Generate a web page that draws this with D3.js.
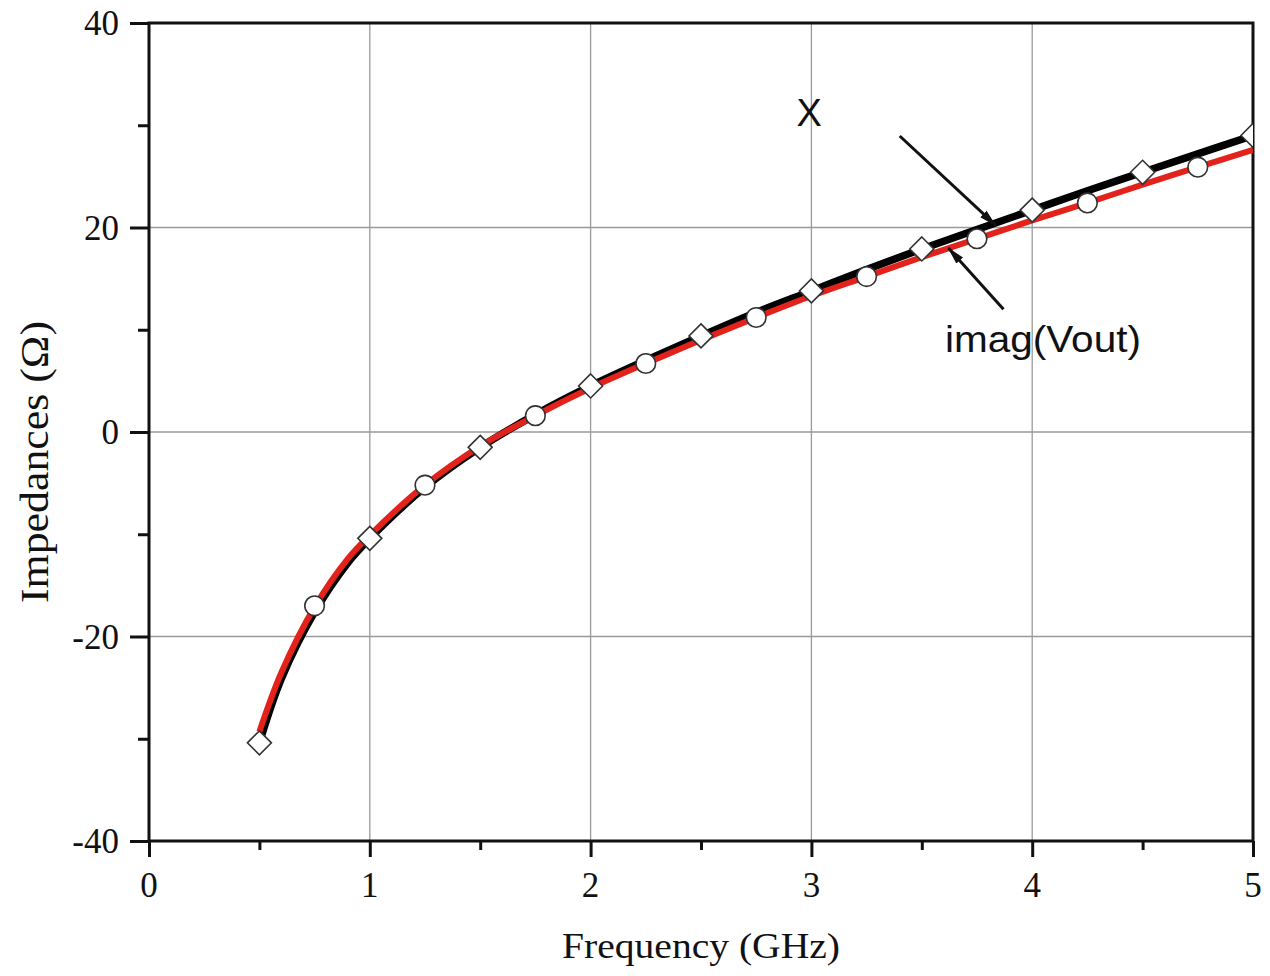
<!DOCTYPE html>
<html>
<head>
<meta charset="utf-8">
<title>Impedances vs Frequency</title>
<script src="https://d3js.org/d3.v7.min.js"></script>
<style>
	body { margin: 0; background: #fff; }
	svg { display: block; }
	.tick-label { font-family: "Liberation Serif", "Times New Roman", serif; font-size: 35px; fill: #111; }
	.axis-title { font-family: "Liberation Serif", "Times New Roman", serif; fill: #111; }
	.note { font-family: "Liberation Sans", Arial, sans-serif; fill: #111; }
</style>
</head>
<body>
<div id="chart"></div>
<script>
// frequency points (GHz) for the two curves
var freq = [0.5, 0.6, 0.75, 0.9, 1.0, 1.25, 1.5, 1.75, 2.0, 2.25, 2.5, 2.75, 3.0, 3.25, 3.5, 3.75, 4.0, 4.25, 4.5, 4.75, 5.0];
// X (black)
var xReact = [-30.4, -24.1, -17.6, -12.8, -10.4, -5.4, -1.5, 1.7, 4.5, 7.0, 9.4, 11.7, 13.8, 15.9, 17.9, 19.8, 21.7, 23.6, 25.4, 27.2, 29.0];
// imag(Vout) (red)
var imagVout = [-29.3, -23.5, -17.1, -12.4, -10.1, -5.2, -1.4, 1.6, 4.3, 6.7, 9.0, 11.2, 13.3, 15.2, 17.1, 18.9, 20.7, 22.4, 24.2, 25.9, 27.6];

// symbols
var diamondF = [0.5, 1.0, 1.5, 2.0, 2.5, 3.0, 3.5, 4.0, 4.5, 5.0];
var diamondV = [-30.4, -10.4, -1.5, 4.5, 9.4, 13.8, 17.9, 21.7, 25.4, 29.0];
var circleF = [0.75, 1.25, 1.75, 2.25, 2.75, 3.25, 3.75, 4.25, 4.75];
var circleV = [-17.0, -5.2, 1.6, 6.7, 11.2, 15.2, 18.9, 22.4, 25.9];

var xTicks = [0, 1, 2, 3, 4, 5];
var yTicks = [-40, -20, 0, 20, 40];

var width = 1270, height = 976;
var pLeft = 149, pRight = 1253, pTop = 23, pBottom = 841;

var x = d3.scaleLinear().domain([0, 5]).range([pLeft, pRight]);
var y = d3.scaleLinear().domain([-40, 40]).range([pBottom, pTop]);

var svg = d3.select("#chart").append("svg")
	.attr("width", width)
	.attr("height", height);

var defs = svg.append("defs");
defs.append("clipPath").attr("id", "plot")
	.append("rect")
	.attr("x", pLeft).attr("y", pTop)
	.attr("width", pRight - pLeft).attr("height", pBottom - pTop);

defs.append("marker")
	.attr("id", "head")
	.attr("viewBox", "0 -6 18 12")
	.attr("refX", 17).attr("refY", 0)
	.attr("markerWidth", 18).attr("markerHeight", 12)
	.attr("markerUnits", "userSpaceOnUse")
	.attr("orient", "auto")
	.append("path")
	.attr("d", "M0,-4.5L18,0L0,4.5Z")
	.attr("fill", "#111");

// grid
svg.append("g")
	.selectAll("line")
	.data([1, 2, 3, 4])
	.enter().append("line")
	.attr("x1", function(d) { return x(d); })
	.attr("x2", function(d) { return x(d); })
	.attr("y1", pTop).attr("y2", pBottom)
	.attr("stroke", "#9a9a9a").attr("stroke-width", 1.3);

svg.append("g")
	.selectAll("line")
	.data([-20, 0, 20])
	.enter().append("line")
	.attr("y1", function(d) { return y(d); })
	.attr("y2", function(d) { return y(d); })
	.attr("x1", pLeft).attr("x2", pRight)
	.attr("stroke", "#9a9a9a").attr("stroke-width", 1.3);

// axes
var xAxis = d3.axisBottom(x).tickValues(d3.range(0, 5.01, 0.5)).tickSize(16).tickFormat("");
var yAxis = d3.axisLeft(y).tickValues(d3.range(-40, 40.1, 10)).tickSize(18).tickFormat("");

var gx = svg.append("g").attr("transform", "translate(0," + pBottom + ")").call(xAxis);
var gy = svg.append("g").attr("transform", "translate(" + pLeft + ",0)").call(yAxis);
[gx, gy].forEach(function(g) {
	g.select(".domain").remove();
	g.selectAll(".tick line").attr("stroke", "#111").attr("stroke-width", 3);
});
gx.selectAll(".tick line").attr("y2", function(d) { return (d % 1 === 0) ? 16 : 9; });
gy.selectAll(".tick line").attr("x2", function(d) { return (d % 20 === 0) ? -19 : -11; });

// frame
svg.append("rect")
	.attr("x", pLeft).attr("y", pTop)
	.attr("width", pRight - pLeft).attr("height", pBottom - pTop)
	.attr("fill", "none")
	.attr("stroke", "#111").attr("stroke-width", 3);

// tick labels
svg.append("g").selectAll("text")
	.data(xTicks)
	.enter().append("text")
	.attr("class", "tick-label")
	.attr("x", function(d) { return x(d); })
	.attr("y", 897)
	.attr("text-anchor", "middle")
	.text(function(d) { return d; });

svg.append("g").selectAll("text")
	.data(yTicks)
	.enter().append("text")
	.attr("class", "tick-label")
	.attr("x", 119)
	.attr("y", function(d) { return y(d) + 12; })
	.attr("text-anchor", "end")
	.text(function(d) { return d; });

// axis titles
svg.append("text")
	.attr("class", "axis-title")
	.attr("x", 701).attr("y", 958)
	.attr("text-anchor", "middle")
	.style("font-size", "36px")
	.attr("textLength", 278).attr("lengthAdjust", "spacingAndGlyphs")
	.text("Frequency (GHz)");

svg.append("text")
	.attr("class", "axis-title")
	.attr("transform", "translate(48,462) rotate(-90)")
	.attr("text-anchor", "middle")
	.style("font-size", "40px")
	.attr("textLength", 282).attr("lengthAdjust", "spacingAndGlyphs")
	.text("Impedances (\u03A9)");

// curves
var plot = svg.append("g").attr("clip-path", "url(#plot)");
var line = d3.line()
	.x(function(d) { return x(d[0]); })
	.y(function(d) { return y(d[1]); })
	.curve(d3.curveCatmullRom);

plot.append("path")
	.datum(d3.zip(freq, xReact))
	.attr("d", line)
	.attr("fill", "none")
	.attr("stroke", "#000")
	.attr("stroke-width", 7.5);

plot.append("path")
	.datum(d3.zip(freq, imagVout))
	.attr("d", line)
	.attr("fill", "none")
	.attr("stroke", "#e3231b")
	.attr("stroke-width", 6);

// markers
plot.append("g").selectAll("path")
	.data(d3.zip(diamondF, diamondV))
	.enter().append("path")
	.attr("transform", function(d) { return "translate(" + x(d[0]) + "," + y(d[1]) + ")"; })
	.attr("d", "M0,-12L12,0L0,12L-12,0Z")
	.attr("fill", "#fff")
	.attr("stroke", "#333")
	.attr("stroke-width", 1.6);

plot.append("g").selectAll("circle")
	.data(d3.zip(circleF, circleV))
	.enter().append("circle")
	.attr("cx", function(d) { return x(d[0]); })
	.attr("cy", function(d) { return y(d[1]); })
	.attr("r", 9.8)
	.attr("fill", "#fff")
	.attr("stroke", "#333")
	.attr("stroke-width", 1.6);

// annotations
svg.append("text")
	.attr("class", "note")
	.attr("x", x(2.99)).attr("y", y(29.9))
	.attr("text-anchor", "middle")
	.style("font-size", "38px")
	.text("X");

svg.append("text")
	.attr("class", "note")
	.attr("x", x(3.605)).attr("y", y(7.8))
	.style("font-size", "37px")
	.attr("textLength", 196).attr("lengthAdjust", "spacingAndGlyphs")
	.text("imag(Vout)");

svg.append("line")
	.attr("x1", x(3.40)).attr("y1", y(28.95))
	.attr("x2", x(3.835)).attr("y2", y(20.2))
	.attr("stroke", "#111").attr("stroke-width", 3)
	.attr("marker-end", "url(#head)");

svg.append("line")
	.attr("x1", x(3.87)).attr("y1", y(12.0))
	.attr("x2", x(3.62)).attr("y2", y(18.0))
	.attr("stroke", "#111").attr("stroke-width", 3)
	.attr("marker-end", "url(#head)");
</script>
</body>
</html>
